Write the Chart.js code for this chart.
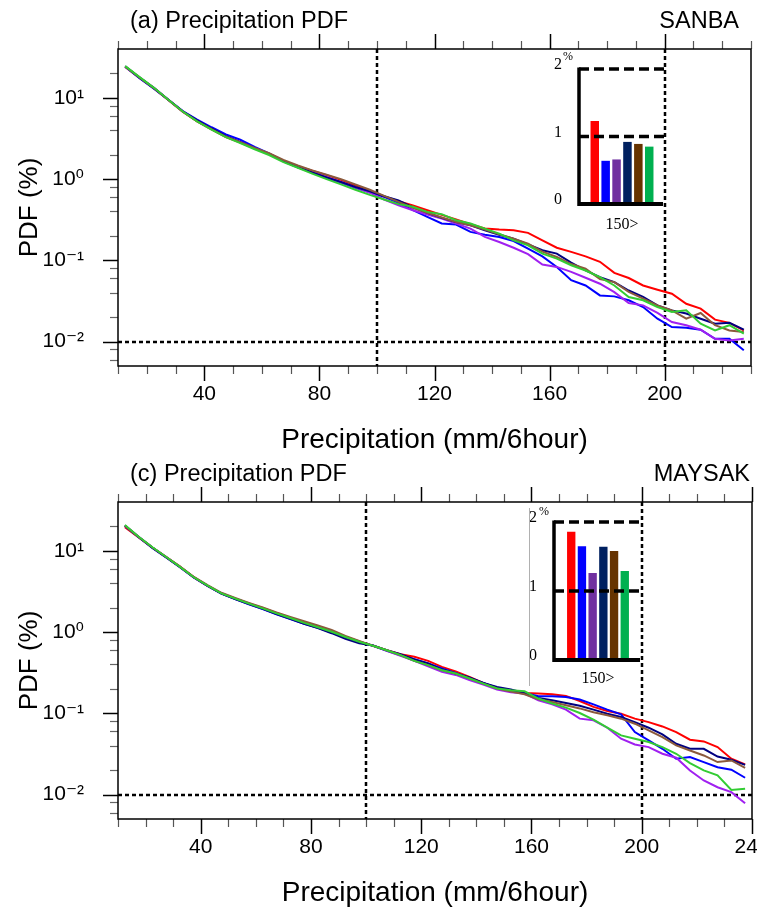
<!DOCTYPE html>
<html><head><meta charset="utf-8">
<script src="https://cdn.jsdelivr.net/npm/chart.js@4.4.1/dist/chart.umd.min.js"></script>
<style>
html,body{margin:0;padding:0;background:#fff;}
body{width:757px;height:916px;overflow:hidden;position:relative;font-family:'Liberation Sans',Arial,sans-serif;}
canvas{position:absolute;}
.t{position:absolute;font-size:23.5px;line-height:24px;white-space:nowrap;color:#000;}
.s{position:absolute;font-family:'Liberation Serif','Times New Roman',serif;font-size:12px;line-height:12px;color:#000;}
</style></head><body>
<canvas id="cA" width="800" height="458" style="left:0;top:0"></canvas>
<canvas id="cC" width="800" height="458" style="left:0;top:453px"></canvas>
<canvas id="iA" width="150" height="200" style="left:530px;top:40px"></canvas>
<canvas id="iC" width="160" height="210" style="left:500px;top:490px"></canvas>
<div class="t" style="left:130px;top:8px">(a) Precipitation PDF</div>
<div class="t" style="right:18px;top:8px">SANBA</div>
<div class="t" style="left:130px;top:461px">(c) Precipitation PDF</div>
<div class="t" style="right:7px;top:461px">MAYSAK</div>
<div class="s" style="left:563px;top:50px">%</div>
<div class="s" style="left:539px;top:505px">%</div>
<script>
// ---------- data ----------
const seriesNames = ['Exp1','Exp2','Exp3','Exp4','Exp5','Exp6'];
const lineColors = ['#ff0000','#0000ff','#a020f0','#000080','#8b5a3c','#33cc33'];
const barColors  = ['#ff0000','#0000ff','#7030a0','#002060','#663300','#00b050'];

const binsA = [12.5,17.5,22.5,27.5,32.5,37.5,42.5,47.5,52.5,57.5,62.5,67.5,72.5,77.5,82.5,87.5,92.5,97.5,
  102.5,107.5,112.5,117.5,122.5,127.5,132.5,137.5,142.5,147.5,152.5,157.5,162.5,167.5,172.5,177.5,182.5,187.5,
  192.5,197.5,202.5,207.5,212.5,217.5,222.5,227.5];
const binsC = [12.5,17.5,22.5,27.5,32.5,37.5,42.5,47.5,52.5,57.5,62.5,67.5,72.5,77.5,82.5,87.5,92.5,97.5,
  102.5,107.5,112.5,117.5,122.5,127.5,132.5,137.5,142.5,147.5,152.5,157.5,162.5,167.5,172.5,177.5,182.5,187.5,
  192.5,197.5,202.5,207.5,212.5,217.5,222.5,227.5,232.5,237.5];

// Panel (a) SANBA, PDF (%)
const redA = [24.0,17.6,13.1,9.4,6.75,5.15,4.1,3.3,2.82,2.38,2.04,1.68,1.44,1.27,1.12,0.98,0.84,0.72,
  0.611,0.535,0.473,0.414,0.363,0.318,0.278,0.246,0.239,0.235,0.218,0.176,0.143,0.127,0.112,0.096,0.070,0.0606,0.049,0.0434,
  0.0388,0.0292,0.0254,0.0186,0.0170,0.0137];
const blueA = [24.2,17.5,13.0,9.5,6.9,5.4,4.35,3.55,3.05,2.5,2.08,1.66,1.40,1.20,1.04,0.91,0.78,0.69,
  0.605,0.510,0.414,0.343,0.284,0.276,0.224,0.207,0.194,0.173,0.139,0.112,0.083,0.057,0.049,0.037,0.036,0.0322,0.0266,0.0191,
  0.0151,0.0148,0.0140,0.0108,0.0108,0.0078];
const purpleA = [24.3,17.9,13.3,9.5,6.8,5.2,4.15,3.35,2.85,2.4,2.05,1.68,1.42,1.22,1.06,0.92,0.79,0.68,
  0.561,0.477,0.414,0.366,0.327,0.284,0.246,0.194,0.168,0.143,0.119,0.089,0.083,0.072,0.061,0.0515,0.0406,0.0298,0.0279,0.0225,
  0.0174,0.0159,0.0140,0.0108,0.0103,0.0108];
const navyA = [24.5,17.7,13.2,9.5,6.85,5.3,4.2,3.38,2.86,2.4,2.03,1.65,1.40,1.21,1.05,0.92,0.80,0.71,
  0.615,0.545,0.448,0.385,0.333,0.297,0.270,0.235,0.207,0.185,0.157,0.133,0.121,0.0935,0.075,0.062,0.054,0.0425,0.0354,0.0279,
  0.0242,0.0221,0.0191,0.0166,0.0170,0.0140];
const brownA = [24.3,17.8,13.2,9.4,6.75,5.15,4.12,3.32,2.85,2.42,2.08,1.72,1.47,1.28,1.13,1.00,0.86,0.74,
  0.623,0.525,0.443,0.385,0.337,0.297,0.270,0.239,0.209,0.185,0.160,0.128,0.110,0.090,0.079,0.059,0.054,0.041,0.0338,0.0279,
  0.0242,0.0191,0.0225,0.0159,0.0137,0.0131];
const greenA = [24.6,18.0,13.3,9.5,6.8,5.15,4.08,3.28,2.78,2.33,1.98,1.62,1.38,1.17,1.00,0.86,0.74,0.64,
  0.561,0.492,0.456,0.395,0.370,0.312,0.284,0.246,0.213,0.176,0.153,0.121,0.105,0.087,0.075,0.062,0.049,0.0354,0.0322,0.0266,
  0.0231,0.0242,0.0166,0.0137,0.0159,0.0125];

// Panel (c) MAYSAK, PDF (%)
const redC = [19.6,14.6,11.0,8.4,6.4,4.75,3.72,3.0,2.58,2.25,1.98,1.72,1.50,1.31,1.17,1.03,0.88,0.77,
  0.678,0.599,0.535,0.496,0.443,0.373,0.327,0.281,0.237,0.202,0.187,0.178,0.175,0.172,0.164,0.142,0.120,0.107,0.099,0.086,
  0.078,0.069,0.0588,0.0473,0.0451,0.0384,0.0276,0.0235];
const blueC = [20.3,14.7,10.9,8.3,6.3,4.72,3.72,2.98,2.55,2.2,1.92,1.66,1.45,1.27,1.13,0.99,0.85,0.75,
  0.678,0.588,0.520,0.464,0.410,0.356,0.315,0.273,0.237,0.207,0.192,0.178,0.162,0.162,0.159,0.148,0.129,0.111,0.097,0.0588,
  0.0464,0.0366,0.0276,0.0289,0.0251,0.0217,0.0202,0.0161];
const purpleC = [20.6,14.9,11.0,8.4,6.35,4.7,3.7,3.02,2.6,2.25,1.96,1.70,1.48,1.29,1.15,1.01,0.87,0.76,
  0.684,0.588,0.510,0.443,0.380,0.324,0.297,0.256,0.226,0.196,0.182,0.175,0.145,0.129,0.111,0.086,0.082,0.0665,0.0487,0.0414,
  0.0384,0.0318,0.0284,0.0198,0.0149,0.0123,0.0107,0.0078];
const navyC = [20.5,14.8,10.9,8.3,6.3,4.7,3.7,2.98,2.56,2.21,1.93,1.67,1.46,1.27,1.12,0.97,0.83,0.73,
  0.684,0.599,0.535,0.460,0.410,0.346,0.309,0.276,0.237,0.211,0.196,0.178,0.155,0.145,0.134,0.124,0.111,0.099,0.090,0.078,
  0.0665,0.055,0.0422,0.0366,0.0366,0.0294,0.0268,0.0232];
const brownC = [20.4,14.8,11.0,8.4,6.4,4.78,3.78,3.05,2.63,2.29,2.01,1.75,1.54,1.36,1.21,1.06,0.90,0.78,
  0.678,0.599,0.520,0.443,0.392,0.340,0.309,0.268,0.232,0.202,0.185,0.172,0.149,0.138,0.126,0.115,0.103,0.0945,0.086,0.0745,
  0.0617,0.051,0.0403,0.0349,0.0303,0.0251,0.0263,0.0213];
const greenC = [20.8,14.9,11.1,8.4,6.35,4.74,3.74,3.0,2.58,2.24,1.96,1.70,1.49,1.30,1.15,1.01,0.87,0.76,
  0.678,0.599,0.520,0.443,0.392,0.340,0.309,0.268,0.232,0.202,0.192,0.187,0.152,0.132,0.1175,0.101,0.0835,0.0665,0.0535,0.0487,
  0.0443,0.0384,0.0318,0.0244,0.0198,0.0172,0.0114,0.0118];

// Insets: fraction (%) above 150 mm/6hour
const insetCategory = ['150>'];
const insetA = [1.23,0.64,0.66,0.92,0.89,0.85];
const insetC = [1.86,1.65,1.26,1.64,1.58,1.29];
const insetTicks = [0,1,2];

// Axis ticks / reference lines
const yTickValues = [0.01,0.1,1,10];
const yTickLabels = ['10\u207B\u00B2','10\u207B\u00B9','10\u2070','10\u00B9'];
const yMinorTicks = [0.006,0.008,0.02,0.04,0.06,0.08,0.2,0.4,0.6,0.8,2,4,6,8,20];
const xLabelValues = [40,80,120,160,200,240];
const refXValues = [100,200];
const refYValue = 0.01;

// ---------- rendering ----------
Chart.defaults.font.family = "'Liberation Sans', Arial, 'DejaVu Sans', sans-serif";
Chart.defaults.color = '#000';
const SERIF = "'Liberation Serif', 'Times New Roman', serif";

const panelDecor = {
  id: 'panelDecor',
  beforeDatasetsDraw(chart) {
    const {ctx, chartArea: a, scales: {x, y}} = chart;
    ctx.save();
    ctx.strokeStyle = '#000'; ctx.lineWidth = 2.5; ctx.setLineDash([4, 3]);
    refXValues.forEach(v => {
      const px = Math.round(x.getPixelForValue(v));
      ctx.beginPath(); ctx.moveTo(px, a.top); ctx.lineTo(px, a.bottom); ctx.stroke();
    });
    const py = Math.round(y.getPixelForValue(refYValue));
    ctx.beginPath(); ctx.moveTo(a.left, py); ctx.lineTo(a.right, py); ctx.stroke();
    ctx.restore();
  },
  afterDraw(chart) {
    const {ctx, chartArea: a, scales: {x, y}} = chart;
    ctx.save();
    ctx.setLineDash([]);
    for (let v = x.min; v <= x.max + 0.001; v += 10) {
      const px = Math.round(x.getPixelForValue(v)) + 0.5;
      const major = xLabelValues.includes(v);
      const len = major ? 15 : 8;
      ctx.strokeStyle = major ? '#000' : '#555';
      ctx.lineWidth = major ? 1.5 : 1.2;
      ctx.beginPath(); ctx.moveTo(px, a.bottom); ctx.lineTo(px, a.bottom + len); ctx.stroke();
      ctx.beginPath(); ctx.moveTo(px, a.top); ctx.lineTo(px, a.top - len); ctx.stroke();
    }
    yTickValues.forEach(v => {
      const py = Math.round(y.getPixelForValue(v)) + 0.5;
      ctx.strokeStyle = '#000'; ctx.lineWidth = 1.5;
      ctx.beginPath(); ctx.moveTo(a.left, py); ctx.lineTo(a.left - 15, py); ctx.stroke();
    });
    yMinorTicks.forEach(v => {
      const py = Math.round(y.getPixelForValue(v)) + 0.5;
      ctx.strokeStyle = '#666'; ctx.lineWidth = 1.2;
      ctx.beginPath(); ctx.moveTo(a.left, py); ctx.lineTo(a.left - 8, py); ctx.stroke();
    });
    ctx.strokeStyle = '#000'; ctx.lineWidth = 1.5;
    ctx.strokeRect(a.left, a.top, a.right - a.left, a.bottom - a.top);
    ctx.restore();
  }
};

function makePanel(id, bins, list, xMax, rightPx) {
  const W = 800, H = 458;
  new Chart(document.getElementById(id), {
    type: 'line',
    data: {
      datasets: list.map((d, i) => ({
        label: seriesNames[i],
        data: bins.map((b, j) => ({x: b, y: d[j]})),
        borderColor: lineColors[i], borderWidth: 2, pointRadius: 0, fill: false, tension: 0,
        order: list.length - 1 - i
      }))
    },
    options: {
      responsive: false, animation: false, devicePixelRatio: 1,
      layout: {padding: {left: 0, top: 49, right: W - rightPx, bottom: 0}},
      plugins: {legend: {display: false}, tooltip: {enabled: false}},
      scales: {
        x: {
          type: 'linear', min: 10, max: xMax,
          afterBuildTicks: s => { s.ticks = xLabelValues.filter(v => v <= xMax).map(v => ({value: v})); },
          ticks: {autoSkip: false, maxRotation: 0, padding: 16, font: {size: 21}, color: '#000', callback: v => String(v)},
          grid: {display: false, drawTicks: false}, border: {display: false},
          title: {display: true, text: 'Precipitation (mm/6hour)', font: {size: 28}, color: '#000', padding: {top: 0, bottom: 1}},
          afterFit: s => { s.height = H - 366; }
        },
        y: {
          type: 'logarithmic', min: 0.005, max: 40,
          afterBuildTicks: s => { s.ticks = yTickValues.map(v => ({value: v})); },
          ticks: {padding: 34, font: {size: 21}, color: '#000', callback: (v, i) => yTickLabels[i]},
          grid: {display: false, drawTicks: false}, border: {display: false},
          title: {display: true, text: 'PDF (%)', font: {size: 26}, color: '#000', padding: {top: 14, bottom: 0}},
          afterFit: s => { s.width = 118; }
        }
      }
    },
    plugins: [panelDecor]
  });
}

const insetDecor = {
  id: 'insetDecor',
  afterDraw(chart) {
    const {ctx, chartArea: a, scales: {y}} = chart;
    const y0 = y.getPixelForValue(0), y1 = y.getPixelForValue(1), y2 = y.getPixelForValue(2);
    ctx.save();
    ctx.strokeStyle = '#000';
    ctx.setLineDash([]);
    ctx.lineWidth = 3.5;
    ctx.beginPath(); ctx.moveTo(a.left, y2 - 1.5); ctx.lineTo(a.left, y0 + 2); ctx.stroke();
    ctx.lineWidth = 4;
    ctx.beginPath(); ctx.moveTo(a.left, y0); ctx.lineTo(a.right - 2, y0); ctx.stroke();
    ctx.lineWidth = 3.5; ctx.setLineDash([10, 5]);
    [y2, y1].forEach(py => { ctx.beginPath(); ctx.moveTo(a.left, py); ctx.lineTo(a.right, py); ctx.stroke(); });
    if (chart.options.plugins.insetDecor && chart.options.plugins.insetDecor.guide) {
      ctx.setLineDash([]); ctx.strokeStyle = '#b0b0b0'; ctx.lineWidth = 1;
      const gx = Math.round(a.left - 25) + 0.5;
      ctx.beginPath(); ctx.moveTo(gx, a.top - 14); ctx.lineTo(gx, y0 + 26); ctx.stroke();
    }
    ctx.restore();
  }
};

function makeInset(id, values, W, H, leftPx, rightPx, topPx, bottomPx, labelPad, catPct, guide) {
  new Chart(document.getElementById(id), {
    type: 'bar',
    data: {
      labels: insetCategory,
      datasets: values.map((v, i) => ({
        label: seriesNames[i], data: [v], backgroundColor: barColors[i], borderWidth: 0,
        categoryPercentage: catPct, barPercentage: 0.78
      }))
    },
    options: {
      responsive: false, animation: false, devicePixelRatio: 1,
      layout: {padding: {left: 0, top: topPx, right: W - rightPx, bottom: 0}},
      plugins: {legend: {display: false}, tooltip: {enabled: false}, insetDecor: {guide: guide}},
      scales: {
        x: {
          grid: {display: false, drawTicks: false}, border: {display: false},
          ticks: {font: {family: SERIF, size: 16}, color: '#000', padding: labelPad},
          afterFit: s => { s.height = H - bottomPx; }
        },
        y: {
          min: 0, max: 2,
          afterBuildTicks: s => { s.ticks = insetTicks.map(v => ({value: v})); },
          grid: {display: false, drawTicks: false}, border: {display: false},
          ticks: {font: {family: SERIF, size: 16}, color: '#000', padding: 17, labelOffset: -4, callback: v => String(v)},
          afterFit: s => { s.width = leftPx; }
        }
      }
    },
    plugins: [insetDecor]
  });
}

makePanel('cA', binsA, [redA, blueA, purpleA, navyA, brownA, greenA], 230, 751);
makePanel('cC', binsC, [redC, blueC, purpleC, navyC, brownC, greenC], 240, 752);
makeInset('iA', insetA, 150, 200, 49, 135, 29, 164, 11, 0.76, false);
makeInset('iC', insetC, 160, 210, 54, 142, 32, 170, 9, 0.73, true);
</script>
</body></html>
